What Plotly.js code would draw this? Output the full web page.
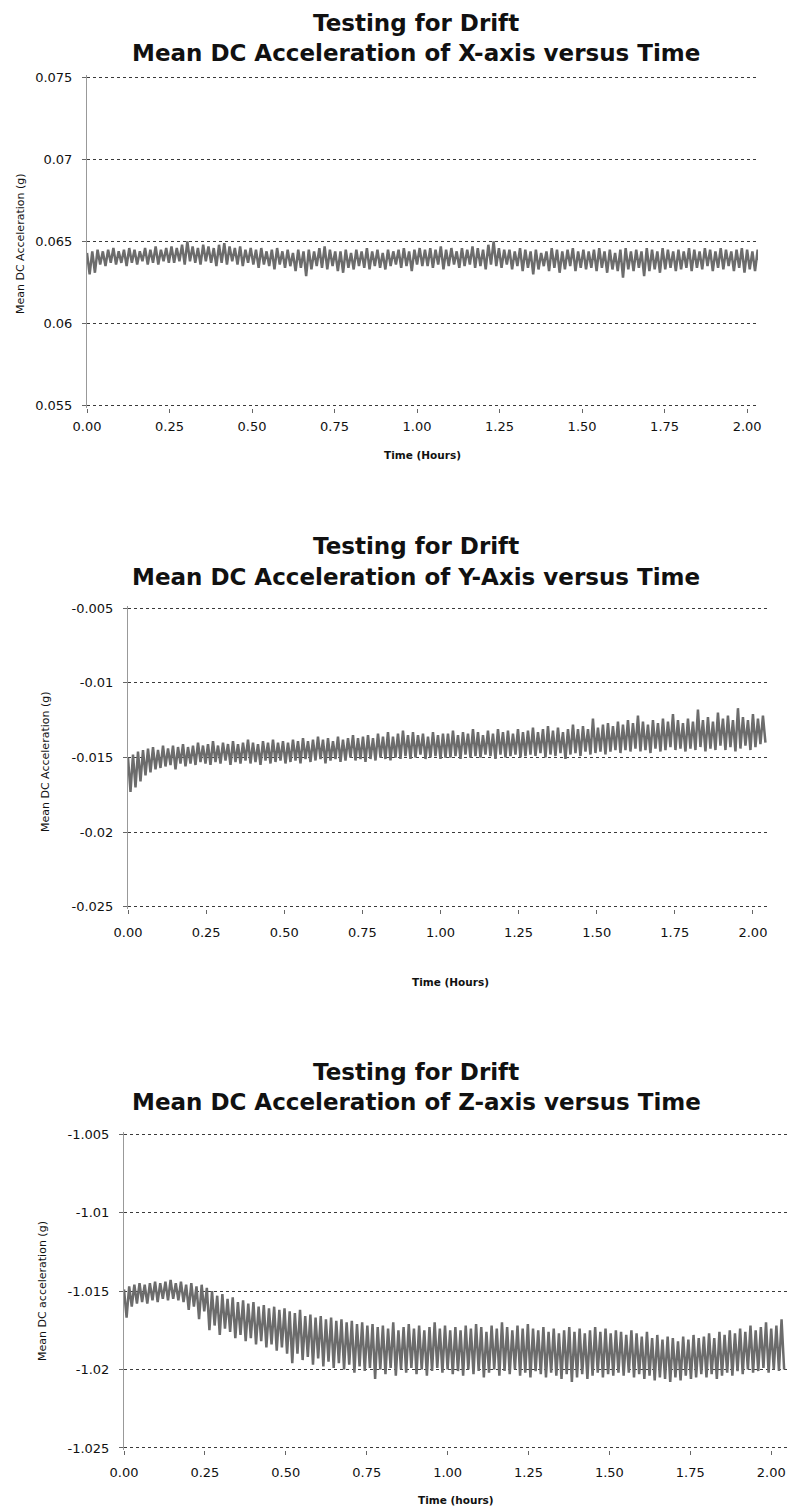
<!DOCTYPE html>
<html>
<head>
<meta charset="utf-8">
<script src="https://cdn.plot.ly/plotly-3.0.1.min.js"></script>
<style>html,body{margin:0;padding:0;background:#fff;}#chart{width:789px;height:1508px;}</style>
</head>
<body>
<div id="chart"></div>
<script>
// Sampling of the time axis (hours)
const TIME_START = 0;
const TIME_STEP = 0.008;

// Tick values / labels
const X_TICKS = [0, 0.25, 0.5, 0.75, 1.0, 1.25, 1.5, 1.75, 2.0];
const X_TICK_LABELS = ["0.00","0.25","0.50","0.75","1.00","1.25","1.50","1.75","2.00"];
const Y1_TICKS = [0.055, 0.06, 0.065, 0.07, 0.075];
const Y1_TICK_LABELS = ["0.055","0.06","0.065","0.07","0.075"];
const Y2_TICKS = [-0.025, -0.02, -0.015, -0.01, -0.005];
const Y2_TICK_LABELS = ["-0.025","-0.02","-0.015","-0.01","-0.005"];
const Y3_TICKS = [-1.025, -1.02, -1.015, -1.01, -1.005];
const Y3_TICK_LABELS = ["-1.025","-1.02","-1.015","-1.01","-1.005"];

// Mean DC acceleration, X-axis (g)
const X_AXIS_ACCEL = [
.0643,.0630,.0644,.0631,.0645,.0636,.0644,.0635,.0645,.0637,.0646,.0636,.0644,.0637,.0645,.0635,.0646,.0637,.0645,.0636,.0644,.0638,.0646,.0636,.0645,.0637,.0647,.0636,.0645,.0638,.0646,.0637,
.0647,.0637,.0646,.0638,.0648,.0636,.0650,.0638,.0647,.0637,.0646,.0636,.0648,.0638,.0647,.0637,.0646,.0635,.0648,.0637,.0649,.0636,.0647,.0638,.0646,.0636,.0647,.0635,.0645,.0637,.0646,.0636,
.0645,.0634,.0646,.0636,.0644,.0635,.0645,.0633,.0646,.0636,.0644,.0634,.0645,.0635,.0643,.0632,.0645,.0634,.0644,.0629,.0645,.0633,.0644,.0635,.0646,.0634,.0647,.0633,.0645,.0635,.0644,.0632,
.0644,.0631,.0645,.0634,.0643,.0633,.0645,.0635,.0644,.0634,.0646,.0633,.0644,.0635,.0645,.0634,.0643,.0633,.0645,.0635,.0644,.0636,.0645,.0634,.0646,.0635,.0644,.0632,.0645,.0636,.0646,.0635,
.0645,.0635,.0646,.0634,.0645,.0636,.0647,.0633,.0645,.0635,.0646,.0636,.0644,.0634,.0646,.0635,.0645,.0636,.0647,.0634,.0646,.0635,.0645,.0633,.0648,.0636,.0650,.0635,.0646,.0634,.0645,.0636,
.0645,.0633,.0644,.0635,.0646,.0632,.0645,.0634,.0644,.0630,.0645,.0633,.0643,.0635,.0644,.0632,.0646,.0634,.0645,.0631,.0644,.0633,.0645,.0635,.0646,.0632,.0644,.0634,.0645,.0633,.0644,.0634,
.0645,.0632,.0646,.0634,.0644,.0631,.0645,.0633,.0643,.0632,.0645,.0628,.0646,.0633,.0644,.0632,.0645,.0634,.0644,.0629,.0646,.0632,.0645,.0633,.0644,.0631,.0646,.0633,.0645,.0634,.0644,.0632,
.0645,.0633,.0644,.0634,.0646,.0632,.0645,.0634,.0644,.0633,.0646,.0635,.0645,.0632,.0644,.0634,.0646,.0633,.0645,.0635,.0644,.0632,.0645,.0634,.0646,.0631,.0645,.0633,.0644,.0632,.0645,.0634
];

// Mean DC acceleration, Y-axis (g)
const Y_AXIS_ACCEL = [
-.0150,-.0173,-.0148,-.0170,-.0146,-.0166,-.0145,-.0162,-.0144,-.0160,-.0143,-.0158,-.0145,-.0157,-.0142,-.0156,-.0144,-.0155,-.0142,-.0158,-.0143,-.0154,-.0141,-.0156,-.0143,-.0154,-.0142,-.0155,-.0140,-.0153,-.0142,-.0154,
-.0141,-.0155,-.0139,-.0153,-.0142,-.0154,-.0140,-.0152,-.0141,-.0155,-.0139,-.0153,-.0141,-.0154,-.0140,-.0152,-.0138,-.0154,-.0140,-.0153,-.0141,-.0155,-.0139,-.0152,-.0140,-.0154,-.0138,-.0153,-.0140,-.0152,-.0139,-.0154,
-.0140,-.0153,-.0138,-.0152,-.0139,-.0154,-.0137,-.0151,-.0139,-.0153,-.0138,-.0152,-.0136,-.0151,-.0138,-.0154,-.0137,-.0152,-.0139,-.0151,-.0136,-.0153,-.0138,-.0152,-.0137,-.0150,-.0135,-.0152,-.0137,-.0151,-.0136,-.0153,
-.0135,-.0151,-.0137,-.0152,-.0134,-.0150,-.0136,-.0151,-.0133,-.0152,-.0136,-.0150,-.0134,-.0151,-.0132,-.0149,-.0135,-.0151,-.0133,-.0150,-.0135,-.0148,-.0134,-.0151,-.0136,-.0150,-.0133,-.0149,-.0135,-.0151,-.0134,-.0150,
-.0134,-.0150,-.0132,-.0149,-.0135,-.0151,-.0133,-.0148,-.0134,-.0150,-.0131,-.0149,-.0133,-.0150,-.0135,-.0148,-.0132,-.0149,-.0134,-.0151,-.0131,-.0148,-.0133,-.0150,-.0132,-.0149,-.0134,-.0148,-.0131,-.0150,-.0133,-.0149,
-.0132,-.0148,-.0130,-.0149,-.0133,-.0147,-.0131,-.0150,-.0129,-.0148,-.0132,-.0149,-.0130,-.0147,-.0133,-.0151,-.0131,-.0148,-.0128,-.0147,-.0131,-.0149,-.0129,-.0146,-.0131,-.0148,-.0124,-.0147,-.0130,-.0146,-.0128,-.0148,
-.0127,-.0146,-.0129,-.0145,-.0126,-.0147,-.0128,-.0145,-.0125,-.0146,-.0127,-.0144,-.0122,-.0146,-.0126,-.0145,-.0128,-.0147,-.0125,-.0144,-.0127,-.0146,-.0124,-.0145,-.0126,-.0143,-.0121,-.0145,-.0125,-.0144,-.0127,-.0146,
-.0124,-.0144,-.0126,-.0145,-.0118,-.0143,-.0125,-.0146,-.0123,-.0144,-.0126,-.0145,-.0120,-.0142,-.0124,-.0145,-.0122,-.0143,-.0125,-.0146,-.0117,-.0144,-.0123,-.0142,-.0125,-.0145,-.0121,-.0143,-.0124,-.0141,-.0122,-.0140
];

// Mean DC acceleration, Z-axis (g)
const Z_AXIS_ACCEL = [
-1.0149,-1.0167,-1.0147,-1.0160,-1.0146,-1.0158,-1.0145,-1.0157,-1.0146,-1.0158,-1.0145,-1.0156,-1.0144,-1.0157,-1.0145,-1.0155,-1.0144,-1.0156,-1.0143,-1.0155,-1.0145,-1.0156,-1.0144,-1.0157,-1.0146,-1.0162,-1.0145,-1.0160,-1.0147,-1.0168,-1.0146,-1.0163,
-1.0148,-1.0175,-1.0150,-1.0172,-1.0153,-1.0178,-1.0152,-1.0174,-1.0155,-1.0176,-1.0154,-1.0180,-1.0157,-1.0178,-1.0156,-1.0182,-1.0158,-1.0180,-1.0157,-1.0184,-1.0160,-1.0182,-1.0159,-1.0186,-1.0161,-1.0184,-1.0160,-1.0188,-1.0162,-1.0186,-1.0161,-1.0190,
-1.0163,-1.0196,-1.0164,-1.0190,-1.0162,-1.0194,-1.0166,-1.0192,-1.0165,-1.0197,-1.0167,-1.0193,-1.0166,-1.0198,-1.0168,-1.0195,-1.0167,-1.0199,-1.0169,-1.0196,-1.0168,-1.0200,-1.0170,-1.0197,-1.0169,-1.0202,-1.0171,-1.0198,-1.0170,-1.0201,-1.0172,-1.0199,
-1.0171,-1.0206,-1.0173,-1.0200,-1.0172,-1.0203,-1.0174,-1.0199,-1.0170,-1.0204,-1.0175,-1.0200,-1.0173,-1.0202,-1.0171,-1.0199,-1.0174,-1.0203,-1.0172,-1.0200,-1.0175,-1.0204,-1.0173,-1.0201,-1.0170,-1.0199,-1.0174,-1.0202,-1.0172,-1.0200,-1.0175,-1.0203,
-1.0173,-1.0201,-1.0175,-1.0204,-1.0172,-1.0200,-1.0174,-1.0203,-1.0171,-1.0201,-1.0173,-1.0205,-1.0176,-1.0202,-1.0172,-1.0200,-1.0174,-1.0204,-1.0170,-1.0201,-1.0173,-1.0203,-1.0175,-1.0200,-1.0172,-1.0204,-1.0174,-1.0202,-1.0171,-1.0205,-1.0174,-1.0201,
-1.0175,-1.0203,-1.0173,-1.0205,-1.0176,-1.0202,-1.0174,-1.0204,-1.0177,-1.0206,-1.0175,-1.0203,-1.0173,-1.0208,-1.0176,-1.0205,-1.0174,-1.0203,-1.0177,-1.0206,-1.0175,-1.0204,-1.0173,-1.0202,-1.0176,-1.0205,-1.0174,-1.0203,-1.0177,-1.0204,-1.0175,-1.0202,
-1.0176,-1.0204,-1.0178,-1.0202,-1.0175,-1.0205,-1.0177,-1.0203,-1.0179,-1.0206,-1.0176,-1.0204,-1.0180,-1.0207,-1.0178,-1.0205,-1.0181,-1.0206,-1.0179,-1.0208,-1.0180,-1.0205,-1.0182,-1.0207,-1.0179,-1.0204,-1.0181,-1.0206,-1.0178,-1.0205,-1.0180,-1.0203,
-1.0179,-1.0205,-1.0177,-1.0203,-1.0180,-1.0206,-1.0176,-1.0204,-1.0178,-1.0202,-1.0175,-1.0204,-1.0177,-1.0201,-1.0174,-1.0203,-1.0176,-1.0200,-1.0172,-1.0202,-1.0175,-1.0201,-1.0173,-1.0199,-1.0170,-1.0202,-1.0174,-1.0200,-1.0172,-1.0201,-1.0168,-1.0200
];

const W = 789, H = 1508;
const px = v => v / W;
const py = v => 1 - v / H;

const LINE = {color: '#6c6c6c', width: 2.5};
const traces = [
  {type: 'scatter', mode: 'lines', x0: TIME_START, dx: TIME_STEP, y: X_AXIS_ACCEL, line: LINE, xaxis: 'x', yaxis: 'y', hoverinfo: 'skip'},
  {type: 'scatter', mode: 'lines', x0: TIME_START, dx: TIME_STEP, y: Y_AXIS_ACCEL, line: LINE, xaxis: 'x2', yaxis: 'y2', hoverinfo: 'skip'},
  {type: 'scatter', mode: 'lines', x0: TIME_START, dx: TIME_STEP, y: Z_AXIS_ACCEL, line: LINE, xaxis: 'x3', yaxis: 'y3', hoverinfo: 'skip'}
];

const tickFont = {family: 'DejaVu Sans', size: 13, color: '#111'};
function xAxis(domain, range, anchor, standoff) {
  return {
    domain: domain, range: range, anchor: anchor,
    tickmode: 'array', tickvals: X_TICKS, ticktext: X_TICK_LABELS,
    showgrid: false, zeroline: false, showline: false,
    ticks: 'outside', ticklen: 4, tickcolor: '#666', tickwidth: 1,
    tickfont: tickFont, ticklabelstandoff: standoff
  };
}
function yAxis(domain, range, vals, labels, anchor) {
  return {
    domain: domain, range: range, anchor: anchor,
    tickmode: 'array', tickvals: vals, ticktext: labels,
    showgrid: true, gridcolor: '#3a3a3a', griddash: 'dot', gridwidth: 1,
    zeroline: false, showline: true, linecolor: '#999', linewidth: 1,
    ticks: 'outside', ticklen: 4, tickcolor: '#666', tickwidth: 1,
    tickfont: tickFont, ticklabelstandoff: 7
  };
}

const titleFont = {family: 'DejaVu Sans', size: 23, color: '#111', weight: 'bold'};
const axTitleFont = {family: 'DejaVu Sans', size: 11, color: '#111'};
const xtFont = {family: 'DejaVu Sans', size: 10.5, color: '#111', weight: 'bold'};
function ann(text, x, y, font, angle) {
  return {text: text, xref: 'paper', yref: 'paper', x: px(x), y: py(y), xanchor: 'center', yanchor: 'middle',
          showarrow: false, font: font, textangle: angle || 0};
}

const layout = {
  width: W, height: H,
  margin: {l: 0, r: 0, t: 0, b: 0, pad: 0},
  paper_bgcolor: '#fff', plot_bgcolor: '#fff',
  showlegend: false,
  xaxis: xAxis([px(87), px(758)], [0, 2.033], 'y', 2),
  yaxis: yAxis([py(408), py(75)], [0.05487, 0.07513], Y1_TICKS, Y1_TICK_LABELS, 'x'),
  xaxis2: xAxis([px(128), px(767)], [0, 2.045], 'y2', 7),
  yaxis2: yAxis([py(909), py(606)], [-0.02514, -0.00486], Y2_TICKS, Y2_TICK_LABELS, 'x2'),
  xaxis3: xAxis([px(124), 1], [0, 2.055], 'y3', 6),
  yaxis3: yAxis([py(1450), py(1132)], [-1.02513, -1.00487], Y3_TICKS, Y3_TICK_LABELS, 'x3'),
  annotations: [
    ann('Testing for Drift', 416, 23, titleFont),
    ann('Mean DC Acceleration of X-axis versus Time', 416, 53, titleFont),
    ann('Testing for Drift', 416, 546, titleFont),
    ann('Mean DC Acceleration of Y-Axis versus Time', 416, 577, titleFont),
    ann('Testing for Drift', 416, 1072, titleFont),
    ann('Mean DC Acceleration of Z-axis versus Time', 416, 1102, titleFont),
    ann('Mean DC Acceleration (g)', 20, 244, axTitleFont, -90),
    ann('Mean DC Acceleration (g)', 45, 762, axTitleFont, -90),
    ann('Mean DC acceleration (g)', 42, 1291, axTitleFont, -90),
    ann('Time (Hours)', 422, 455, xtFont),
    ann('Time (Hours)', 450, 982, xtFont),
    ann('Time (hours)', 456, 1500, xtFont)
  ]
};

Plotly.newPlot('chart', traces, layout, {staticPlot: true, displayModeBar: false});
</script>
</body>
</html>
